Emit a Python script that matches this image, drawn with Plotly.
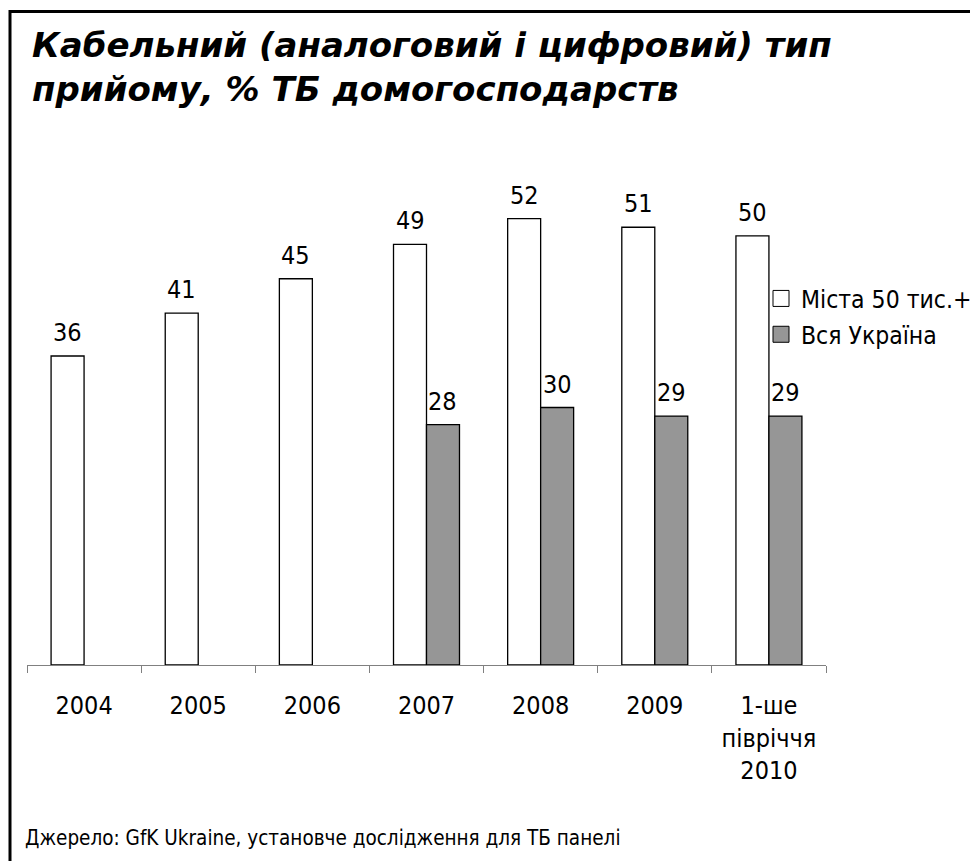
import plotly.graph_objects as go

categories = ["2004", "2005", "2006", "2007", "2008", "2009", "1-ше<br>півріччя<br>2010"]
cities_50k = [36, 41, 45, 49, 52, 51, 50]
all_ukraine = [None, None, None, 28, 30, 29, 29]
series_names = ["Міста 50 тис.+", "Вся Україна"]
series_colors = ["white", "#969696"]
title_text = "Кабельний (аналоговий і цифровий) тип<br>прийому, % ТБ домогосподарств"
source_text = "Джерело: GfK Ukraine, установче дослідження для ТБ панелі"

OFF = 8  # page body margin
W, H = 978 - OFF, 861 - OFF
L, R, T, B = 27 - OFF, 152, 150 - OFF, 196
pw, ph = W - L - R, H - T - B

def px(xp):
    return (xp - OFF - L) / pw

def py(yp):
    return (H - B - (yp - OFF)) / ph

FONT = "DejaVu Sans Condensed, DejaVu Sans, sans-serif"

fig = go.Figure()
fig.add_trace(go.Bar(
    x=categories, y=cities_50k, name=series_names[0], showlegend=False,
    marker=dict(color=series_colors[0], line=dict(color="black", width=1.3)),
))
fig.add_trace(go.Bar(
    x=categories, y=all_ukraine, name=series_names[1], showlegend=False,
    marker=dict(color=series_colors[1], line=dict(color="black", width=1.3)),
))
# legend entries with larger square keys
for i, (nm, col) in enumerate(zip(series_names, series_colors)):
    fig.add_trace(go.Scatter(
        x=[categories[0]], y=[None], name=nm, mode="markers", legendgroup=str(i),
        marker=dict(symbol="square", size=16, color=col, line=dict(color="black", width=1)),
        hoverinfo="skip",
    ))

off = 0.1445
annotations = []
for i, v in enumerate(cities_50k):
    if v is not None:
        annotations.append(dict(x=i - off, y=v, xref="x", yref="y", text=str(v),
                                showarrow=False, yanchor="bottom", yshift=7,
                                font=dict(size=25, color="black", family=FONT)))
for i, v in enumerate(all_ukraine):
    if v is not None:
        annotations.append(dict(x=i + off, y=v, xref="x", yref="y", text=str(v),
                                showarrow=False, yanchor="bottom", yshift=7,
                                font=dict(size=25, color="black", family=FONT)))

annotations.append(dict(x=px(30), y=py(23), xref="paper", yref="paper", text=title_text,
                        showarrow=False, xanchor="left", yanchor="top", align="left",
                        font=dict(size=34, color="black", family="DejaVu Sans",
                                  weight="bold", style="italic")))
annotations.append(dict(x=px(23), y=py(838), xref="paper", yref="paper", text=source_text,
                        showarrow=False, xanchor="left", yanchor="middle", align="left",
                        font=dict(size=20.5, color="black", family=FONT)))

fig.update_layout(
    width=W, height=H,
    margin=dict(l=L, r=R, t=T, b=B, autoexpand=False),
    paper_bgcolor="white", plot_bgcolor="white",
    barmode="group", bargap=0.422, bargroupgap=0,
    showlegend=True,
    legend=dict(x=px(761), y=py(276), xanchor="left", yanchor="top",
                font=dict(size=24.5, color="black", family=FONT),
                bgcolor="rgba(0,0,0,0)", tracegroupgap=1, traceorder="grouped",
                itemwidth=30),
    annotations=annotations,
    shapes=[dict(type="rect", xref="paper", yref="paper",
                 x0=px(10), x1=px(1010), y0=py(11.5), y1=py(900),
                 line=dict(color="black", width=3), fillcolor="rgba(0,0,0,0)")],
    xaxis=dict(type="category", tickson="boundaries", ticks="outside", ticklen=7,
               tickcolor="#808080", tickwidth=1, showline=True, linecolor="#808080",
               linewidth=1, showgrid=False, ticklabelstandoff=18, automargin=False,
               tickfont=dict(size=25, color="black", family=FONT)),
    yaxis=dict(range=[0, 60], visible=False, showgrid=False, zeroline=False),
)

fig.write_html("out.html")
